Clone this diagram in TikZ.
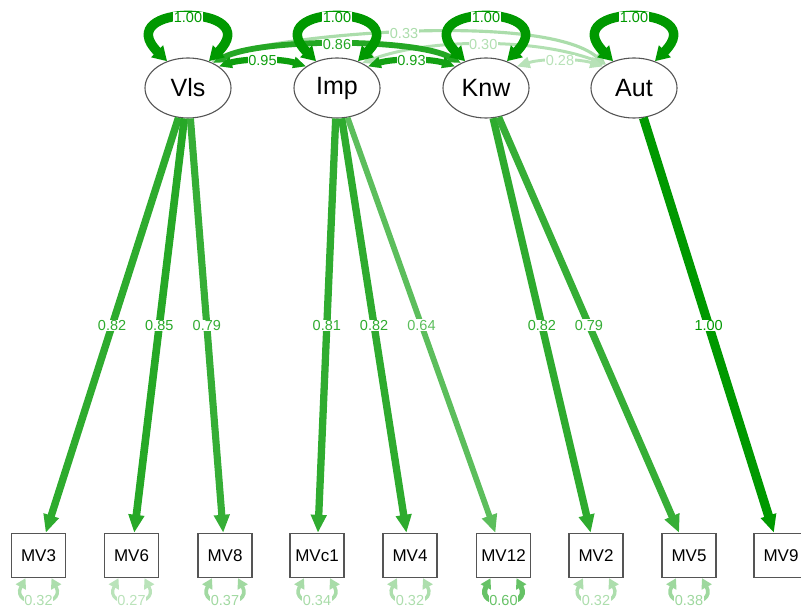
\documentclass[tikz,border=0pt]{standalone}
\usepackage{fontspec}
\setmainfont{Liberation Sans}
\usetikzlibrary{arrows.meta,shapes.geometric}
\definecolor{pos}{HTML}{009900}
\definecolor{rim}{HTML}{555555}

\begin{document}
\begin{tikzpicture}[x=1pt,y=-1pt,
  latent/.style={ellipse, draw=rim, line width=1.1pt, fill=white,
    minimum width=86pt, minimum height=60pt, inner sep=0pt,
    font=\fontsize{25}{25}\selectfont},
  manifest/.style={rectangle, draw=rim, line width=1.4pt, fill=white,
    minimum width=54pt, minimum height=44pt, inner sep=0pt,
    font=\fontsize{17}{17}\selectfont},
  lab/.style={fill=white, inner sep=0.6pt, text=pos!#1!white,
    font=\fontsize{14.5}{14.5}\selectfont},
  load/.style={draw=pos!#1!white, line width={#1*0.09pt},
    -{Triangle[length=18pt,width=15pt]}},
  cov/.style={draw=pos!#1!white, line width={1.5pt+#1*0.05pt},
    {Triangle[length=13pt,width=11pt]}-{Triangle[length=13pt,width=11pt]}},
  vloop/.style={draw=pos!#1!white, line width={#1*0.095pt},
    {Triangle[length=14pt,width=16pt]}-{Triangle[length=14pt,width=16pt]}},
  resid/.style={draw=pos!#1!white, line width={1.5pt+#1*0.06pt},
    {Triangle[length=10pt,width=11pt]}-{Triangle[length=10pt,width=11pt]}}
]
\useasboundingbox (0,0) rectangle (801,612);
\clip (0,0) rectangle (801,612);

% latent factors
\node[latent] (Vls) at (188,88) {Vls};
\node[latent] (Imp) at (337,88) {Imp};
\node[latent] (Knw) at (486,88) {Knw};
\node[latent] (Aut) at (634,88) {Aut};

% observed indicators
\node[manifest] (MV3)  at (38.5,555.5)  {MV3};
\node[manifest] (MV6)  at (131.5,555.5) {MV6};
\node[manifest] (MV8)  at (225,555.5)   {MV8};
\node[manifest] (MVc1) at (317,555.5)   {MVc1};
\node[manifest] (MV4)  at (410,555.5)   {MV4};
\node[manifest] (MV12) at (503.5,555.5) {MV12};
\node[manifest] (MV2)  at (596,555.5)   {MV2};
\node[manifest] (MV5)  at (689,555.5)   {MV5};
\node[manifest] (MV9)  at (781,555.5)   {MV9};

% factor covariances (weak ones first, underneath)
\draw[cov=33] (Vls.48) .. controls (265,36) and (540,10) .. (Aut.140)
  node[pos=0.5, lab=33] {0.33};
\draw[cov=30] (Imp.45) .. controls (430,38) and (536,38) .. (Aut.140)
  node[pos=0.5, lab=30] {0.30};
\draw[cov=28] (Knw.35) .. controls +(25,-8) and +(-25,-8) .. (Aut.145)
  node[pos=0.5, lab=28] {0.28};
\draw[cov=86] (Vls.45) .. controls (260,38) and (414,38) .. (Knw.135)
  node[pos=0.5, lab=86] {0.86};
\draw[cov=95] (Vls.35) .. controls +(25,-8) and +(-25,-8) .. (Imp.145)
  node[pos=0.5, lab=95] {0.95};
\draw[cov=93] (Imp.35) .. controls +(25,-8) and +(-25,-8) .. (Knw.145)
  node[pos=0.5, lab=93] {0.93};

% factor variances
\foreach \f in {Vls,Imp,Knw,Aut}{
  \draw[vloop=100] (\f.128) .. controls +(-58,-58) and +(58,-58) .. (\f.52)
    node[pos=0.5, lab=100] {1.00};
}

% loadings
\draw[load=82]  (Vls) -- node[lab=82]  {0.82} (MV3);
\draw[load=85]  (Vls) -- node[lab=85]  {0.85} (MV6);
\draw[load=79]  (Vls) -- node[lab=79]  {0.79} (MV8);
\draw[load=81]  (Imp) -- node[lab=81]  {0.81} (MVc1);
\draw[load=82]  (Imp) -- node[lab=82]  {0.82} (MV4);
\draw[load=64]  (Imp) -- node[lab=64]  {0.64} (MV12);
\draw[load=82]  (Knw) -- node[lab=82]  {0.82} (MV2);
\draw[load=79]  (Knw) -- node[lab=79]  {0.79} (MV5);
\draw[load=100] (Aut) -- node[lab=100] {1.00} (MV9);

% residual variances
\foreach \m/\w/\t in {MV3/32/0.32, MV6/27/0.27, MV8/37/0.37, MVc1/34/0.34,
                      MV4/32/0.32, MV12/60/0.60, MV2/32/0.32, MV5/38/0.38}{
  \draw[resid=\w] ([xshift=-13pt]\m.south) .. controls +(-16,30) and +(16,30) ..
    ([xshift=13pt]\m.south) node[pos=0.5, lab=\w] {\t};
}
\end{tikzpicture}
\end{document}
